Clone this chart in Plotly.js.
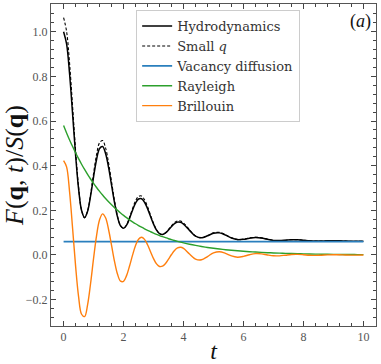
<!DOCTYPE html>
<html>
<head>
<meta charset="utf-8">
<script src="https://cdn.plot.ly/plotly-3.0.1.min.js"></script>
<style>html,body{margin:0;padding:0;background:#fff;}#chart{width:381px;height:364px;}</style>
</head>
<body>
<div id="chart"></div>
<script>
// time grid
const t = [0,0.1,0.2,0.3,0.4,0.5,0.6,0.7,0.8,0.9,1.0,1.1,1.2,1.3,1.4,1.5,1.6,1.7,1.8,1.9,2.0,2.1,2.2,2.3,2.4,2.5,2.6,2.7,2.8,2.9,3.0,3.1,3.2,3.3,3.4,3.5,3.6,3.7,3.8,3.9,4.0,4.2,4.4,4.6,4.8,5.0,5.2,5.4,5.6,5.8,6.0,6.2,6.4,6.6,6.8,7.0,7.2,7.4,7.6,7.8,8.0,8.2,8.4,8.6,8.8,9.0,9.2,9.4,9.6,9.8,10.0];

const hydrodynamics = [1.000,0.9452,0.8105,0.6317,0.4486,0.2960,0.1990,0.1673,0.1953,0.2645,0.3501,0.4276,0.4767,0.4856,0.4548,0.3924,0.3131,0.2340,0.1695,0.1303,0.1195,0.1334,0.1640,0.2005,0.2322,0.2507,0.2519,0.2361,0.2075,0.1725,0.1383,0.1111,0.0954,0.0918,0.0986,0.1122,0.1275,0.1404,0.1472,0.1465,0.1386,0.1101,0.0842,0.0767,0.0859,0.0975,0.0990,0.0892,0.0761,0.0689,0.0702,0.0752,0.0782,0.0758,0.0700,0.0654,0.0644,0.0661,0.0681,0.0680,0.0660,0.0635,0.0622,0.0626,0.0635,0.0639,0.0633,0.0621,0.0613,0.0611,0.0614];

const smallQ = [1.0630,1.0014,0.8572,0.6654,0.4689,0.3051,0.2011,0.1673,0.1978,0.2727,0.3653,0.4492,0.5026,0.5125,0.4797,0.4127,0.3275,0.2424,0.1731,0.1310,0.1195,0.1348,0.1681,0.2078,0.2422,0.2625,0.2640,0.2471,0.2163,0.1786,0.1418,0.1125,0.0956,0.0918,0.0994,0.1142,0.1309,0.1450,0.1526,0.1519,0.1435,0.1127,0.0847,0.0767,0.0869,0.0996,0.1014,0.0909,0.0767,0.0689,0.0704,0.0760,0.0793,0.0767,0.0705,0.0655,0.0644,0.0663,0.0685,0.0684,0.0662,0.0635,0.0622,0.0626,0.0636,0.0640,0.0634,0.0621,0.0613,0.0611,0.0614];

const vacancy = [0.06,0.06,0.06,0.06,0.06,0.06,0.06,0.06,0.06,0.06,0.06,0.06,0.06,0.06,0.06,0.06,0.06,0.06,0.06,0.06,0.06,0.06,0.06,0.06,0.06,0.06,0.06,0.06,0.06,0.06,0.06,0.06,0.06,0.06,0.06,0.06,0.06,0.06,0.06,0.06,0.06,0.06,0.06,0.06,0.06,0.06,0.06,0.06,0.06,0.06,0.06,0.06,0.06,0.06,0.06,0.06,0.06,0.06,0.06,0.06,0.06,0.06,0.06,0.06,0.06,0.06,0.06,0.06,0.06,0.06,0.06];

const rayleigh = [0.5800,0.5467,0.5152,0.4856,0.4576,0.4313,0.4065,0.3831,0.3611,0.3403,0.3207,0.3023,0.2849,0.2685,0.2531,0.2385,0.2248,0.2119,0.1997,0.1882,0.1774,0.1672,0.1575,0.1485,0.1399,0.1319,0.1243,0.1171,0.1104,0.1041,0.0981,0.0924,0.0871,0.0821,0.0774,0.0729,0.0687,0.0648,0.0611,0.0575,0.0542,0.0482,0.0428,0.0380,0.0338,0.0300,0.0266,0.0237,0.0210,0.0187,0.0166,0.0147,0.0131,0.0116,0.0103,0.0092,0.0082,0.0072,0.0064,0.0057,0.0051,0.0045,0.0040,0.0036,0.0032,0.0028,0.0025,0.0022,0.0020,0.0018,0.0015];

const brillouin = [0.4230,0.3947,0.2820,0.1198,-0.0487,-0.1862,-0.2654,-0.2758,-0.2233,-0.1276,-0.0154,0.0869,0.1577,0.1840,0.1666,0.1142,0.0427,-0.0295,-0.0866,-0.1172,-0.1179,-0.0924,-0.0494,-0.0007,0.0423,0.0706,0.0797,0.0700,0.0459,0.0145,-0.0163,-0.0399,-0.0515,-0.0503,-0.0380,-0.0187,0.0022,0.0202,0.0315,0.0344,0.0293,0.0045,-0.0181,-0.0213,-0.0069,0.0096,0.0148,0.0072,-0.0043,-0.0098,-0.0062,0.0013,0.0062,0.0051,0.0002,-0.0037,-0.0038,-0.0009,0.0021,0.0027,0.0011,-0.0010,-0.0018,-0.0010,0.0004,0.0012,0.0009,-0.0001,-0.0007,-0.0007,-0.0001];

const seriesNames = ['Hydrodynamics','Small <i>q</i>','Vacancy diffusion','Rayleigh','Brillouin'];
const xTicks = [0,2,4,6,8,10];
const yTicks = [-0.2,0.0,0.2,0.4,0.6,0.8,1.0];
const yTickText = ['\u22120.2','0.0','0.2','0.4','0.6','0.8','1.0'];

const SERIF = '"Liberation Serif", serif';
const WIDE_SERIF = '"DejaVu Serif", serif';

const traces = [
  {x:t, y:hydrodynamics, name:seriesNames[0], mode:'lines', line:{color:'#000000', width:1.5, shape:'spline'}},
  {x:t, y:smallQ, name:seriesNames[1], mode:'lines', line:{color:'#000000', width:1.1, dash:'3px,2px', shape:'spline'}},
  {x:t, y:vacancy, name:seriesNames[2], mode:'lines', line:{color:'#2a7fbd', width:1.8}},
  {x:t, y:rayleigh, name:seriesNames[3], mode:'lines', line:{color:'#2ca02c', width:1.4, shape:'spline'}},
  {x:t, y:brillouin, name:seriesNames[4], mode:'lines', line:{color:'#ff7f0e', width:1.4, shape:'spline'}}
];

const axisCommon = {
  showgrid:false, zeroline:false, showline:true, linecolor:'#555', linewidth:1,
  ticks:'inside', ticklen:5, tickwidth:1, tickcolor:'#444', mirror:'allticks',
  tickfont:{family:SERIF, size:12, color:'#555'}
};

const layout = {
  width:381, height:364,
  margin:{l:51, r:5, t:4, b:38},
  font:{family:SERIF, size:12, color:'#222'},
  paper_bgcolor:'#ffffff', plot_bgcolor:'#ffffff',
  showlegend:true,
  legend:{x:0.262, y:0.981, xanchor:'left', yanchor:'top', bgcolor:'rgba(255,255,255,0.85)', bordercolor:'#cccccc', borderwidth:1, font:{family:WIDE_SERIF, size:13, color:'#333'}, tracegroupgap:0},
  xaxis:Object.assign({}, axisCommon, {
    range:[-0.42, 10.42], tickvals:xTicks, ticktext:xTicks.map(String),
    minor:{dtick:0.4, tick0:0, ticks:'inside', ticklen:3, tickcolor:'#444', tickwidth:1},
    title:{text:'<i>t</i>', font:{family:SERIF, size:24, color:'#111'}, standoff:2}
  }),
  yaxis:Object.assign({}, axisCommon, {
    range:[-0.318, 1.124], tickvals:yTicks, ticktext:yTickText,
    minor:{dtick:0.04, tick0:0, ticks:'inside', ticklen:3, tickcolor:'#444', tickwidth:1},
    title:{text:'<i>F</i>(<b>q</b>, <i>t</i>)/<i>S</i>(<b>q</b>)', font:{family:SERIF, size:26, color:'#111'}, standoff:3}
  }),
  annotations:[{xref:'paper', yref:'paper', x:0.99, y:0.985, xanchor:'right', yanchor:'top', text:'(<i>a</i>)', showarrow:false, font:{family:SERIF, size:18, color:'#111'}}]
};

Plotly.newPlot('chart', traces, layout, {staticPlot:true, displayModeBar:false});
</script>
</body>
</html>
